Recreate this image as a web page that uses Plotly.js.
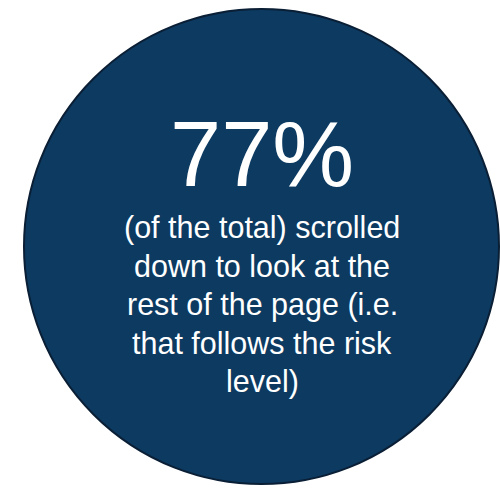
<!DOCTYPE html>
<html>
<head>
<meta charset="utf-8">
<script src="https://cdn.plot.ly/plotly-3.0.1.min.js"></script>
<style>html,body{margin:0;padding:0;background:#fff;}#chart{width:500px;height:490px;}</style>
</head>
<body>
<div id="chart"></div>
<script>
// Data
const shareLabels = ["Scrolled down"];
const shareValues = [77];
const headlineSuffix = "%";
const captionLines = [
  "(of the total) scrolled",
  "down to look at the",
  "rest of the page (i.e.",
  "that follows the risk",
  "level)"
];

const W = 500, H = 490;
const margin = {l: 24, r: 1, t: 5, b: 2, pad: 0};
const plotW = W - margin.l - margin.r;
const plotH = H - margin.t - margin.b;
const px = x => (x - margin.l) / plotW;
const py = y => (H - margin.b - y) / plotH;

const font = "Liberation Sans, Arial, sans-serif";

const annotations = [{
  xref: "paper", yref: "paper",
  x: px(262), y: py(154),
  xanchor: "center", yanchor: "middle",
  showarrow: false,
  text: shareValues[0] + headlineSuffix,
  font: {family: font, size: 92, color: "#ffffff"}
}];
const lineTop = 227.5, lineGap = 38.5;
captionLines.forEach((t, i) => {
  annotations.push({
    xref: "paper", yref: "paper",
    x: px(262), y: py(lineTop + i * lineGap),
    xanchor: "center", yanchor: "middle",
    showarrow: false,
    text: t,
    font: {family: font, size: 30.5, color: "#ffffff"}
  });
});

const data = [{
  type: "pie",
  labels: shareLabels,
  values: [1],
  sort: false,
  textinfo: "none",
  hoverinfo: "skip",
  showlegend: false,
  marker: {colors: ["#0c3a61"], line: {color: "#0a1f35", width: 2}},
  domain: {x: [0, 1], y: [0, 1]}
}];

const layout = {
  width: W, height: H,
  margin: margin,
  paper_bgcolor: "#ffffff",
  plot_bgcolor: "#ffffff",
  showlegend: false,
  annotations: annotations
};

Plotly.newPlot("chart", data, layout, {displayModeBar: false, staticPlot: true});
</script>
</body>
</html>
